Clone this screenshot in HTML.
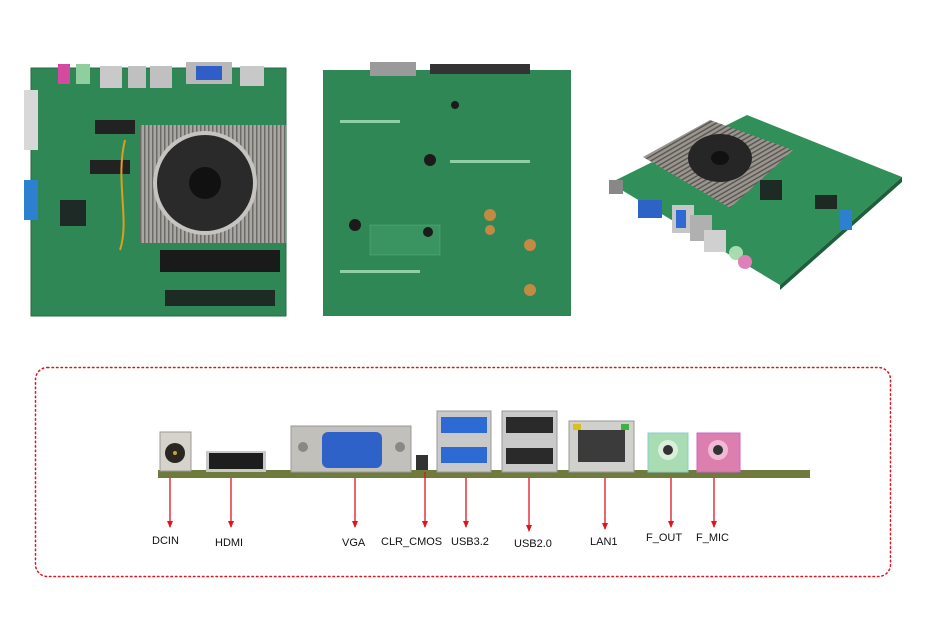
<!DOCTYPE html>
<html><head><meta charset="utf-8"><style>
html,body{margin:0;padding:0;background:#fff;width:934px;height:623px;overflow:hidden}
svg{display:block}
text{font-family:"Liberation Sans",sans-serif;font-size:11px;fill:#111}
</style></head><body>
<svg width="934" height="623" viewBox="0 0 934 623" xmlns="http://www.w3.org/2000/svg">
<defs>
<marker id="ah" markerWidth="7" markerHeight="6" refX="6" refY="3" orient="auto" markerUnits="userSpaceOnUse">
<path d="M0,0 L7,3 L0,6 Z" fill="#e0141e"/></marker>
<pattern id="fins" width="4" height="4" patternUnits="userSpaceOnUse"><rect width="4" height="4" fill="#a9a7a2"/><rect width="1.5" height="4" fill="#6d6b68"/></pattern>
<pattern id="fins2" width="4" height="4" patternUnits="userSpaceOnUse" patternTransform="rotate(60)"><rect width="4" height="4" fill="#9a958e"/><rect width="1.5" height="4" fill="#5c5954"/></pattern>
</defs>

<!-- Left board -->
<rect x="31" y="68" width="255" height="248" fill="#2f8756"/>
<rect x="31" y="68" width="255" height="248" fill="none" stroke="#246a43"/>
<rect x="58" y="64" width="12" height="20" fill="#d44aa0"/>
<rect x="76" y="64" width="14" height="20" fill="#8fcf9f"/>
<rect x="100" y="66" width="22" height="22" fill="#c9c9c9"/>
<rect x="128" y="66" width="18" height="22" fill="#c0c0c0"/>
<rect x="150" y="66" width="22" height="22" fill="#c0c0c0"/>
<rect x="186" y="62" width="46" height="22" fill="#b8b8b8"/>
<rect x="196" y="66" width="26" height="14" fill="#2f5ec8"/>
<rect x="240" y="66" width="24" height="20" fill="#c8c8c8"/>
<rect x="24" y="90" width="14" height="60" fill="#d8d8d8"/>
<rect x="24" y="180" width="14" height="40" fill="#2d7fd0"/>
<rect x="60" y="200" width="26" height="26" fill="#1e2a25"/>
<rect x="140" y="125" width="146" height="118" fill="url(#fins)"/>
<circle cx="205" cy="183" r="52" fill="#c6c4c0"/>
<circle cx="205" cy="183" r="48" fill="#2a2a2a"/>
<circle cx="205" cy="183" r="16" fill="#111"/>
<rect x="160" y="250" width="120" height="22" fill="#1a1a1a"/>
<rect x="165" y="290" width="110" height="16" fill="#1e2b24"/>
<rect x="95" y="120" width="40" height="14" fill="#222"/>
<rect x="90" y="160" width="40" height="14" fill="#222"/>
<path d="M125 140 C115 180 130 220 120 250" stroke="#d9a020" stroke-width="2" fill="none"/>

<!-- Middle board -->
<rect x="323" y="70" width="248" height="246" fill="#2f8756"/>
<rect x="370" y="62" width="46" height="14" fill="#9a9a9a"/>
<rect x="430" y="64" width="100" height="10" fill="#333"/>
<rect x="370" y="225" width="70" height="30" fill="#3a9462" stroke="#5fb080" stroke-width="0.5"/>
<circle cx="430" cy="160" r="6" fill="#1b1b1b"/><circle cx="490" cy="215" r="6" fill="#c28a43"/>
<circle cx="490" cy="230" r="5" fill="#c28a43"/><circle cx="530" cy="245" r="6" fill="#c28a43"/>
<circle cx="530" cy="290" r="6" fill="#c28a43"/><circle cx="355" cy="225" r="6" fill="#1b1b1b"/>
<circle cx="428" cy="232" r="5" fill="#1b1b1b"/><circle cx="455" cy="105" r="4" fill="#1b1b1b"/>
<rect x="340" y="120" width="60" height="3" fill="#8fcfa8"/>
<rect x="450" y="160" width="80" height="3" fill="#8fcfa8"/>
<rect x="340" y="270" width="80" height="3" fill="#8fcfa8"/>

<!-- Iso board -->
<polygon points="747,115 902,177 780,285 610,183" fill="#31905a"/>
<polygon points="780,285 902,177 902,182 780,290" fill="#1f5e3b"/>
<polygon points="643,157 710,120 793,150 730,208" fill="url(#fins2)"/>
<ellipse cx="720" cy="158" rx="32" ry="24" fill="#262626"/>
<ellipse cx="720" cy="158" rx="9" ry="7" fill="#111"/>
<rect x="609" y="180" width="14" height="14" fill="#888"/>
<rect x="638" y="200" width="24" height="18" fill="#2d62c6"/>
<rect x="672" y="205" width="22" height="28" fill="#c6c6c6"/>
<rect x="676" y="210" width="10" height="18" fill="#2e6ad4"/>
<rect x="690" y="215" width="22" height="26" fill="#b0b0b0"/>
<rect x="704" y="230" width="22" height="22" fill="#d0d0d0"/>
<circle cx="736" cy="253" r="7" fill="#a8dcb0"/><circle cx="745" cy="262" r="7" fill="#e080b8"/>
<rect x="840" y="210" width="12" height="20" fill="#2d7fd0"/>
<rect x="815" y="195" width="22" height="14" fill="#1d2a24"/>
<rect x="760" y="180" width="22" height="20" fill="#1e2a24"/>

<!-- Dotted frame -->
<rect x="35.5" y="367.5" width="855" height="209" rx="12" fill="none" stroke="#e0141e" stroke-width="1.5" stroke-dasharray="1.5,3" stroke-linecap="round"/>

<!-- Bottom strip -->
<rect x="158" y="470" width="652" height="8" fill="#6f7b3c"/>
<rect x="160" y="432" width="31" height="39" fill="#d5d3cc" stroke="#999"/>
<circle cx="175" cy="453" r="10" fill="#2a2620"/><circle cx="175" cy="453" r="2" fill="#c9a040"/>
<rect x="206" y="451" width="60" height="21" fill="#c8c8c8"/>
<rect x="209" y="453" width="54" height="16" fill="#1d1d1d"/>
<rect x="291" y="426" width="120" height="46" fill="#c2c0bb" stroke="#999"/>
<rect x="322" y="432" width="60" height="36" rx="6" fill="#2e62c8"/>
<circle cx="303" cy="447" r="5" fill="#888"/><circle cx="400" cy="447" r="5" fill="#888"/>
<rect x="416" y="455" width="12" height="15" fill="#333"/>
<rect x="437" y="411" width="54" height="61" fill="#c9c9c9" stroke="#999"/>
<rect x="441" y="417" width="46" height="16" fill="#2e6ad4"/>
<rect x="441" y="447" width="46" height="16" fill="#2e6ad4"/>
<rect x="502" y="411" width="55" height="61" fill="#c9c9c9" stroke="#999"/>
<rect x="506" y="417" width="47" height="16" fill="#2a2a2a"/>
<rect x="506" y="448" width="47" height="16" fill="#2a2a2a"/>
<rect x="569" y="421" width="65" height="51" fill="#d0d0cc" stroke="#999"/>
<rect x="578" y="430" width="47" height="32" fill="#3b3b3b"/>
<rect x="573" y="424" width="8" height="6" fill="#d8c020"/><rect x="621" y="424" width="8" height="6" fill="#40b040"/>
<rect x="648" y="433" width="40" height="39" fill="#a9dcb3" stroke="#8cc"/>
<circle cx="668" cy="450" r="10" fill="#d9efdc"/><circle cx="668" cy="450" r="5" fill="#333"/>
<rect x="697" y="433" width="43" height="39" fill="#dd7fae" stroke="#c6c"/>
<circle cx="718" cy="450" r="10" fill="#f0b9d4"/><circle cx="718" cy="450" r="5" fill="#333"/>

<!-- Arrows -->
<g stroke="#e0141e" stroke-width="1.3" marker-end="url(#ah)">
<line x1="170" y1="478" x2="170" y2="527"/>
<line x1="231" y1="478" x2="231" y2="527"/>
<line x1="355" y1="478" x2="355" y2="527"/>
<line x1="425" y1="472" x2="425" y2="527"/>
<line x1="466" y1="478" x2="466" y2="527"/>
<line x1="529" y1="478" x2="529" y2="531"/>
<line x1="605" y1="478" x2="605" y2="529"/>
<line x1="671" y1="478" x2="671" y2="527"/>
<line x1="714" y1="478" x2="714" y2="527"/>
</g>
<text x="152" y="544">DCIN</text>
<text x="215" y="546">HDMI</text>
<text x="342" y="546">VGA</text>
<text x="381" y="545">CLR_CMOS</text>
<text x="451" y="545">USB3.2</text>
<text x="514" y="547">USB2.0</text>
<text x="590" y="545">LAN1</text>
<text x="646" y="541">F_OUT</text>
<text x="696" y="541">F_MIC</text>
</svg>
</body></html>
